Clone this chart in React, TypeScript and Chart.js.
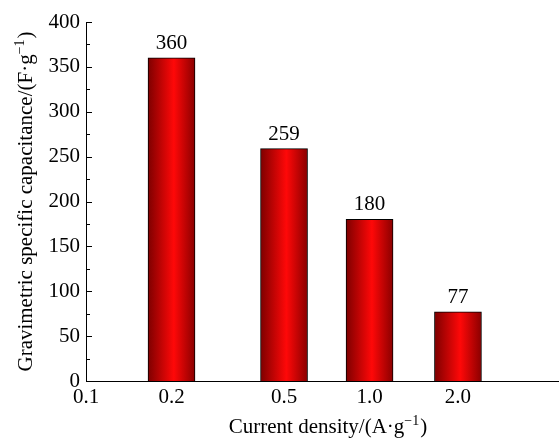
import React, { useEffect, useRef } from "react";
import { Chart, registerables } from "chart.js";

Chart.register(...registerables);

// Data
const categories = ["0.1", "0.2", "0.5", "1.0", "2.0"];
const tickPositions = [0, 1, 2.316, 3.316, 4.35];
const barPositions = [1, 2.316, 3.316, 4.35];
const capacitance = [360, 259, 180, 77];
const yMin = 0;
const yMax = 400;
const yStep = 50;
const yMinorStep = 25;
const xMax = 5.52;

const FONT = "'Liberation Serif', 'Times New Roman', serif";
const FS = 21;

const titlesPlugin = {
  id: "titles",
  afterDraw(chart: any) {
    const { ctx, chartArea } = chart;
    ctx.save();
    ctx.fillStyle = "#000";
    const measure = (main: string, sup: string, tail: string) => {
      ctx.font = `${FS}px ${FONT}`;
      const w1 = ctx.measureText(main).width;
      const w3 = ctx.measureText(tail).width;
      ctx.font = `14px ${FONT}`;
      const w2 = ctx.measureText(sup).width;
      return { w1, w2, w3, total: w1 + w2 + w3 + 1 };
    };
    const paint = (main: string, sup: string, tail: string, startX: number, baseY: number) => {
      const m = measure(main, sup, tail);
      ctx.textAlign = "left";
      ctx.textBaseline = "alphabetic";
      ctx.font = `${FS}px ${FONT}`;
      ctx.fillText(main, startX, baseY);
      ctx.font = `14px ${FONT}`;
      ctx.fillText(sup, startX + m.w1, baseY - 8);
      ctx.font = `${FS}px ${FONT}`;
      ctx.fillText(tail, startX + m.w1 + m.w2 + 1, baseY);
    };
    {
      const main = "Current density/(A·g";
      const sup = "−1";
      const tail = ")";
      const m = measure(main, sup, tail);
      const cx = (chartArea.left + chartArea.right) / 2 + 6;
      paint(main, sup, tail, cx - m.total / 2, 433);
    }
    {
      const main = "Gravimetric specific capacitance/(F·g";
      const sup = "−1";
      const tail = ")";
      const m = measure(main, sup, tail);
      const cy = (chartArea.top + chartArea.bottom) / 2;
      ctx.save();
      ctx.translate(32, cy);
      ctx.rotate(-Math.PI / 2);
      paint(main, sup, tail, -m.total / 2, 0);
      ctx.restore();
    }
    ctx.restore();
  },
};

const ticksPlugin = {
  id: "innerTicks",
  afterDraw(chart: any) {
    const { ctx, chartArea, scales } = chart;
    ctx.save();
    ctx.strokeStyle = "#000";
    ctx.lineWidth = 1;
    for (let v = yMin; v <= yMax; v += yMinorStep) {
      const y = Math.round(scales.y.getPixelForValue(v)) + 0.5;
      const len = v % yStep === 0 ? 6 : 4;
      ctx.beginPath();
      ctx.moveTo(chartArea.left, y);
      ctx.lineTo(chartArea.left + len, y);
      ctx.stroke();
    }
    ctx.restore();
  },
};

const labelsPlugin = {
  id: "barLabels",
  afterDatasetsDraw(chart: any) {
    const { ctx } = chart;
    const meta = chart.getDatasetMeta(0);
    ctx.save();
    ctx.fillStyle = "#000";
    ctx.font = `${FS}px ${FONT}`;
    ctx.textAlign = "center";
    ctx.textBaseline = "alphabetic";
    meta.data.forEach((el: any, i: number) => {
      ctx.fillText(String(capacitance[i]), el.x, el.y - 9);
    });
    ctx.restore();
  },
};

export default function App() {
  const canvasRef = useRef<HTMLCanvasElement | null>(null);

  useEffect(() => {
    if (!canvasRef.current) return;
    const chart = new Chart(canvasRef.current, {
      type: "bar",
      data: {
        datasets: [
          {
            data: barPositions.map((x, i) => ({ x, y: capacitance[i] })),
            barThickness: 47,
            borderColor: "#000",
            borderWidth: 1,
            backgroundColor: (c: any) => {
              const chart = c.chart;
              const xs = chart.scales && chart.scales.x;
              if (!xs || !c.raw) return "#e00000";
              const cx = xs.getPixelForValue(c.raw.x);
              if (!Number.isFinite(cx)) return "#e00000";
              const g = chart.ctx.createLinearGradient(cx - 23.5, 0, cx + 23.5, 0);
              g.addColorStop(0, "#7e0000");
              g.addColorStop(0.55, "#ff0808");
              g.addColorStop(1, "#8a0000");
              return g;
            },
          } as any,
        ],
      },
      options: {
        responsive: false,
        animation: false,
        layout: { padding: { top: 22, right: 2, left: 0, bottom: 0 } },
        plugins: {
          legend: { display: false },
          tooltip: { enabled: false },
        },
        scales: {
          x: {
            type: "linear",
            min: 0,
            max: xMax,
            offset: false,
            afterBuildTicks: (scale: any) => {
              scale.ticks = tickPositions.map((v) => ({ value: v }));
            },
            afterFit: (scale: any) => {
              scale.height = 60;
            },
            ticks: {
              autoSkip: false,
              maxRotation: 0,
              padding: 4,
              color: "#000",
              font: { family: FONT, size: FS },
              callback: (_v: any, i: number) => categories[i],
            },
            grid: { display: false, drawTicks: false, offset: false },
            border: { display: true, color: "#000", width: 1 },
          },
          y: {
            min: yMin,
            max: yMax,
            afterFit: (scale: any) => {
              scale.width = 86;
            },
            ticks: {
              stepSize: yStep,
              padding: 6,
              color: "#000",
              font: { family: FONT, size: FS },
            },
            grid: { display: false, drawTicks: false },
            border: { display: true, color: "#000", width: 1 },
          },
        },
      } as any,
      plugins: [labelsPlugin, ticksPlugin, titlesPlugin],
    });
    return () => chart.destroy();
  }, []);

  return (
    <div style={{ position: "absolute", left: 0, top: 0, width: 560, height: 441, background: "#fff" }}>
      <canvas ref={canvasRef} width={560} height={441} />
    </div>
  );
}
